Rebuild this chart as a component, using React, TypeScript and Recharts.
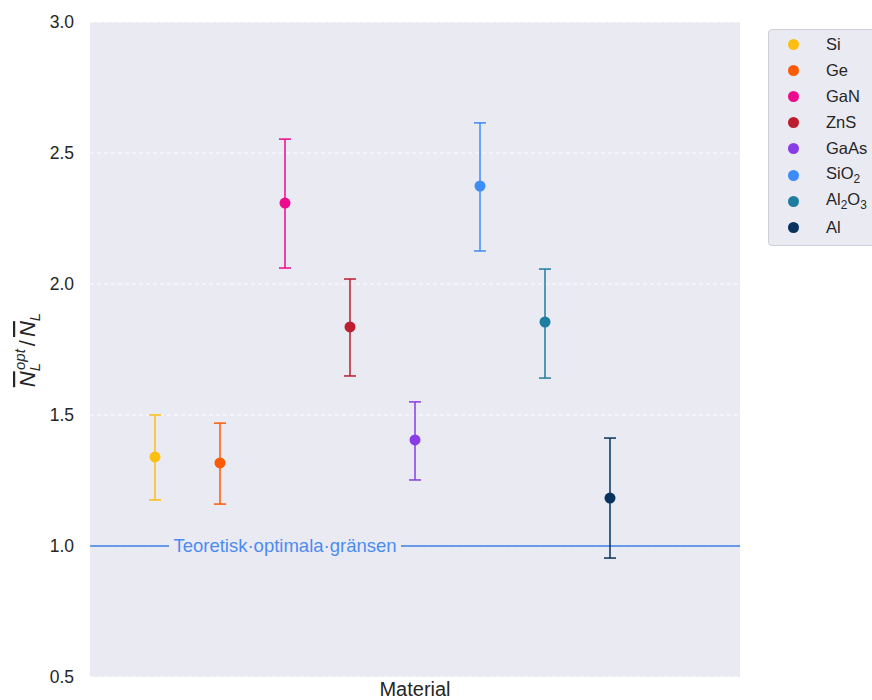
import React from "react";
import {
  CartesianGrid,
  ErrorBar,
  ReferenceLine,
  Scatter,
  ScatterChart,
  XAxis,
  YAxis,
} from "recharts";

const materials = ["Si", "Ge", "GaN", "ZnS", "GaAs", "SiO2", "Al2O3", "Al"];
const means = [1.34, 1.317, 2.309, 1.836, 1.405, 2.374, 1.855, 1.183];
const lows = [1.176, 1.16, 2.061, 1.649, 1.252, 2.126, 1.641, 0.954];
const highs = [1.5, 1.469, 2.553, 2.019, 1.55, 2.615, 2.057, 1.412];
const colors = [
  "#FDBE12",
  "#FC5B05",
  "#EE0A8E",
  "#BC1D2F",
  "#8A3CE8",
  "#3D8CF8",
  "#1F7CA1",
  "#07335E",
];
const yTicks = [0.5, 1.0, 1.5, 2.0, 2.5, 3.0];
const limitValue = 1.0;
const limitLabel = "Teoretisk·optimala·gränsen";

const FONT = "'Liberation Sans', Arial, sans-serif";
const PLOT_BG = "#EAEAF2";

const series = materials.map((name, i) => ({
  name,
  color: colors[i],
  data: [
    {
      x: i + 1,
      y: means[i],
      err: [means[i] - lows[i], highs[i] - means[i]],
    },
  ],
}));

// "SiO2" -> Si O <sub>2</sub>
function Formula({ text }: { text: string }) {
  const parts = text.split(/(\d+)/).filter(Boolean);
  return (
    <>
      {parts.map((p, i) =>
        /^\d+$/.test(p) ? (
          <sub key={i} style={{ fontSize: "0.72em", verticalAlign: "-0.3em" }}>
            {p}
          </sub>
        ) : (
          <span key={i}>{p}</span>
        ),
      )}
    </>
  );
}

// legend sits outside the svg so it doesn't shrink the plot area
function LegendBox() {
  return (
    <div
      style={{
        position: "absolute",
        left: 768,
        top: 29,
        width: 120,
        boxSizing: "border-box",
        border: "1px solid #CFCFD6",
        borderRadius: 4,
        background: PLOT_BG,
        padding: "1px 0 4px 19px",
        fontFamily: FONT,
        fontSize: 16.5,
        color: "#262626",
      }}
    >
      {series.map((s) => (
        <div
          key={s.name}
          style={{ display: "flex", alignItems: "center", height: 26.2 }}
        >
          <span
            style={{
              width: 11,
              height: 11,
              borderRadius: "50%",
              background: s.color,
              display: "inline-block",
              marginRight: 27,
              flex: "none",
            }}
          />
          <span style={{ whiteSpace: "nowrap" }}>
            <Formula text={s.name} />
          </span>
        </div>
      ))}
    </div>
  );
}

function YLabel() {
  return (
    <text
      transform="translate(35, 350) rotate(-90)"
      textAnchor="middle"
      fontFamily={FONT}
      fontSize={22}
      fill="#262626"
    >
      <tspan fontStyle="italic" textDecoration="overline">
        N
      </tspan>
      <tspan fontStyle="italic" fontSize={15} dy={5}>
        L
      </tspan>
      <tspan fontStyle="italic" fontSize={15} dx={-7} dy={-15}>
        opt
      </tspan>
      <tspan dx={3} dy={10}>
        /
      </tspan>
      <tspan fontStyle="italic" dx={3} textDecoration="overline">
        N
      </tspan>
      <tspan fontStyle="italic" fontSize={15} dy={5}>
        L
      </tspan>
    </text>
  );
}

function LimitLabel(props: any) {
  const vb = props.viewBox || {};
  const cx = vb.x + vb.width * 0.3;
  const cy = vb.y;
  const w = 232;
  return (
    <g>
      <rect x={cx - w / 2} y={cy - 10} width={w} height={20} fill={PLOT_BG} />
      <text
        x={cx}
        y={cy}
        dy={6}
        textAnchor="middle"
        fontFamily={FONT}
        fontSize={18.5}
        fill="#4A8CF2"
      >
        {limitLabel}
      </text>
    </g>
  );
}

function Dot(props: any) {
  const { cx, cy, fill } = props;
  return <circle cx={cx} cy={cy} r={5.5} fill={fill} />;
}

export default function App() {
  return (
    <div style={{ position: "absolute", left: 0, top: 0, width: 872, height: 700 }}>
      <ScatterChart
        width={872}
        height={700}
        margin={{ top: 22, right: 132, bottom: 0, left: 0 }}
      >
        <CartesianGrid
          vertical={false}
          stroke="#FFFFFF"
          strokeDasharray="4 3"
          fill={PLOT_BG}
        />
        <XAxis
          type="number"
          dataKey="x"
          domain={[0, 10]}
          tick={false}
          tickLine={false}
          axisLine={false}
          height={23}
          label={{
            value: "Material",
            position: "insideBottom",
            offset: 4,
            fill: "#262626",
            fontSize: 20,
            fontFamily: FONT,
          }}
        />
        <YAxis
          type="number"
          dataKey="y"
          domain={[0.5, 3.0]}
          ticks={yTicks}
          tickFormatter={(v) => Number(v).toFixed(1)}
          width={90}
          axisLine={false}
          tickLine={false}
          tickMargin={10}
          tick={{ fill: "#262626", fontSize: 17.5, fontFamily: FONT }}
          label={<YLabel />}
        />
        <ReferenceLine
          y={limitValue}
          stroke="#3B7DE3"
          strokeWidth={1.5}
          label={<LimitLabel />}
        />
        {series.map((s) => (
          <Scatter
            key={s.name}
            name={s.name}
            data={s.data}
            fill={s.color}
            shape={<Dot />}
            isAnimationActive={false}
          >
            <ErrorBar
              dataKey="err"
              direction="y"
              width={6}
              stroke={s.color}
              strokeWidth={1.5}
              isAnimationActive={false}
            />
          </Scatter>
        ))}
      </ScatterChart>
      <LegendBox />
    </div>
  );
}
